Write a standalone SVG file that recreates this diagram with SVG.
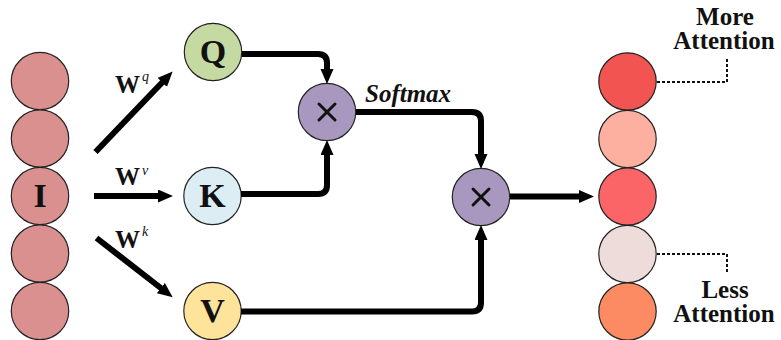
<svg xmlns="http://www.w3.org/2000/svg" width="781" height="340" viewBox="0 0 781 340">
  <style>
    .node { stroke: #222; stroke-width: 1.2; }
    .in { fill: #D9908E; }
    .lbl { font-family: "Liberation Serif", "Times New Roman", serif; font-weight: bold; fill: #111; }
    .big { font-size: 34px; text-anchor: middle; }
    .w { font-size: 25px; }
    .sup { font-size: 14px; font-style: italic; font-weight: normal; }
    .note { font-size: 25px; text-anchor: middle; }
    .wire { fill: none; stroke: #000; stroke-width: 6; }
    .cross { stroke: #111; stroke-width: 3; stroke-linecap: round; }
    .dots { fill: none; stroke: #111; stroke-width: 2; stroke-dasharray: 3 2; }
  </style>
  <defs>
    <marker id="head" markerUnits="userSpaceOnUse" markerWidth="16" markerHeight="14" refX="4" refY="6.5" orient="auto">
      <path d="M0,0 L15,6.5 L0,13 z" fill="#000"/>
    </marker>
  </defs>

  <!-- input column -->
  <g id="input">
    <circle class="node in" cx="40" cy="81" r="28.7"/>
    <circle class="node in" cx="40" cy="138.5" r="28.7"/>
    <circle class="node in" cx="40" cy="196" r="28.7"/>
    <circle class="node in" cx="40" cy="253.5" r="28.7"/>
    <circle class="node in" cx="40" cy="311" r="28.7"/>
    <text class="lbl big" x="40" y="207">I</text>
  </g>

  <g id="q">
    <circle class="node" cx="213" cy="52" r="28.7" fill="#C5D9A2"/>
    <text class="lbl big" x="213" y="63">Q</text>
  </g>
  <g id="k">
    <circle class="node" cx="212.5" cy="196" r="28.7" fill="#DCEEF3"/>
    <text class="lbl big" x="212.5" y="207">K</text>
  </g>
  <g id="v">
    <circle class="node" cx="212.5" cy="311" r="28.7" fill="#FEE39A"/>
    <text class="lbl big" x="212.5" y="322">V</text>
  </g>

  <g id="mul1">
    <circle class="node" cx="327" cy="112" r="28.7" fill="#A898BF"/>
    <line class="cross" x1="319" y1="104" x2="335" y2="120"/>
    <line class="cross" x1="335" y1="104" x2="319" y2="120"/>
  </g>
  <g id="mul2">
    <circle class="node" cx="481" cy="197" r="28.7" fill="#A898BF"/>
    <line class="cross" x1="473" y1="189" x2="489" y2="205"/>
    <line class="cross" x1="489" y1="189" x2="473" y2="205"/>
  </g>

  <!-- output column -->
  <g id="output">
    <circle class="node" cx="627.5" cy="81.5" r="28.7" fill="#F25452"/>
    <circle class="node" cx="627.5" cy="139" r="28.7" fill="#FDB09F"/>
    <circle class="node" cx="627.5" cy="196.5" r="28.7" fill="#FB6567"/>
    <circle class="node" cx="627.5" cy="254" r="28.7" fill="#EEDCDA"/>
    <circle class="node" cx="627.5" cy="311.5" r="28.7" fill="#FC8A62"/>
  </g>

  <g id="more-label">
    <text class="lbl note" x="725" y="25">More</text>
    <text class="lbl note" x="724" y="49">Attention</text>
  </g>
  <g id="less-label">
    <text class="lbl note" x="725" y="298">Less</text>
    <text class="lbl note" x="724" y="322">Attention</text>
  </g>

  <g id="weights">
    <text class="lbl w" x="115" y="93">W<tspan class="sup" dx="2" dy="-12">q</tspan></text>
    <text class="lbl w" x="115" y="185">W<tspan class="sup" dx="2" dy="-10">v</tspan></text>
    <text class="lbl w" x="115" y="248">W<tspan class="sup" dx="2" dy="-12">k</tspan></text>
  </g>
  <text class="lbl" x="365" y="102" font-size="25" font-style="italic">Softmax</text>

  <g id="connectors">
    <line class="wire" x1="95.5" y1="152" x2="165" y2="79.5" marker-end="url(#head)"/>
    <line class="wire" x1="94" y1="196" x2="162" y2="196" marker-end="url(#head)"/>
    <line class="wire" x1="96.5" y1="238" x2="164" y2="290.5" marker-end="url(#head)"/>
    <path class="wire" d="M242,54 H318 Q327,54 327,63 V73" marker-end="url(#head)"/>
    <path class="wire" d="M241,194 H318 Q327,194 327,185 V151" marker-end="url(#head)"/>
    <path class="wire" d="M356,112 H472 Q481,112 481,121 V158" marker-end="url(#head)"/>
    <path class="wire" d="M241,311.5 H472 Q481,311.5 481,302.5 V236" marker-end="url(#head)"/>
    <line class="wire" x1="510" y1="196.5" x2="583" y2="196.5" marker-end="url(#head)"/>
    <path class="dots" d="M657,82 H727 V57"/>
    <path class="dots" d="M657,254 H727 V273"/>
  </g>
</svg>
